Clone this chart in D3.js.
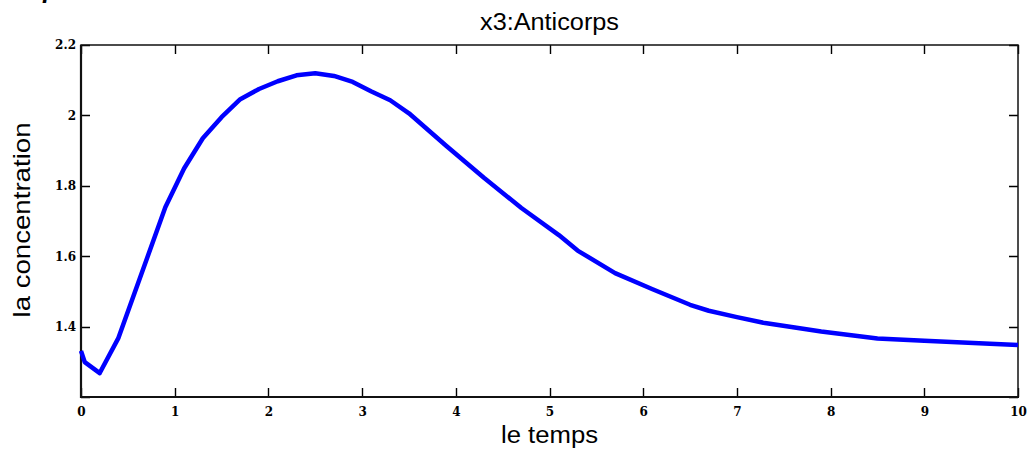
<!DOCTYPE html>
<html>
<head>
<meta charset="utf-8">
<script src="https://cdn.jsdelivr.net/npm/d3@7"></script>
<style>
  html, body { margin: 0; padding: 0; background: #fff; }
  svg { display: block; }
  .tick text { font-family: "DejaVu Serif", "Liberation Serif", serif; font-weight: bold; font-size: 12px; fill: #000; }
</style>
</head>
<body>
<svg id="chart" width="1030" height="450"></svg>
<script>
// Time samples (le temps) and antibody concentration x3
const temps = [0, 0.04, 0.2, 0.4, 0.9, 1.1, 1.3, 1.5, 1.7, 1.9, 2.1, 2.3, 2.5, 2.7, 2.9,
               3.1, 3.3, 3.5, 3.9, 4.3, 4.7, 5.1, 5.3, 5.7, 6.1, 6.5, 6.7, 7.0, 7.3, 7.9,
               8.5, 9.0, 9.7, 10];
const anticorps = [1.331, 1.299, 1.268, 1.368, 1.739, 1.849, 1.935, 1.995, 2.046, 2.075, 2.097,
                   2.114, 2.120, 2.112, 2.095, 2.068, 2.043, 2.006, 1.913, 1.823, 1.737, 1.660,
                   1.616, 1.552, 1.506, 1.462, 1.445, 1.427, 1.410, 1.386, 1.366, 1.360, 1.351, 1.348];

const xTicks = [0, 1, 2, 3, 4, 5, 6, 7, 8, 9, 10];
const yTicks = [1.2, 1.4, 1.6, 1.8, 2.0, 2.2];
const yTickLabels = ["", "1.4", "1.6", "1.8", "2", "2.2"];

const titre = "x3:Anticorps";
const xLabel = "le temps";
const yLabel = "la concentration";

const svg = d3.select("#chart");
const plot = { left: 81, top: 45, right: 1018, bottom: 397 };

const x = d3.scaleLinear().domain([0, 10]).range([plot.left, plot.right]);
const y = d3.scaleLinear().domain([1.2, 2.2]).range([plot.bottom, plot.top]);

// Tick labels from the library's axes
svg.append("g")
  .attr("transform", `translate(0,${plot.bottom})`)
  .call(d3.axisBottom(x).tickValues(xTicks).tickFormat(d3.format("d")).tickSize(0).tickPadding(10))
  .call(g => g.select(".domain").remove())
  .call(g => g.selectAll(".tick line").remove());
svg.append("g")
  .attr("transform", `translate(${plot.left},0)`)
  .call(d3.axisLeft(y).tickValues(yTicks).tickFormat((d, i) => yTickLabels[i]).tickSize(0).tickPadding(5))
  .call(g => g.select(".domain").remove())
  .call(g => g.selectAll(".tick line").remove());

// Inward tick marks on all four sides of the box, as one path
const tickLen = 9;
const tickPath = d3.path();
xTicks.forEach(d => {
  const px = Math.round(x(d)) + 0.5;
  tickPath.moveTo(px, plot.bottom); tickPath.lineTo(px, plot.bottom - tickLen);
  tickPath.moveTo(px, plot.top); tickPath.lineTo(px, plot.top + tickLen);
});
yTicks.forEach(d => {
  const py = Math.round(y(d)) + 0.5;
  tickPath.moveTo(plot.left, py); tickPath.lineTo(plot.left + tickLen, py);
  tickPath.moveTo(plot.right, py); tickPath.lineTo(plot.right - tickLen, py);
});
svg.append("path")
  .attr("d", tickPath.toString())
  .attr("fill", "none")
  .attr("stroke", "#000")
  .attr("stroke-width", 1.4);

// Frame
svg.append("rect")
  .attr("x", plot.left).attr("y", plot.top)
  .attr("width", plot.right - plot.left).attr("height", plot.bottom - plot.top)
  .attr("fill", "none").attr("stroke", "#111").attr("stroke-width", 1.5);
svg.append("line").attr("x1", plot.left).attr("x2", plot.right + 1).attr("y1", plot.bottom).attr("y2", plot.bottom)
  .attr("stroke", "#111").attr("stroke-width", 2.2);
svg.append("line").attr("x1", plot.left).attr("x2", plot.left).attr("y1", plot.top).attr("y2", plot.bottom + 1)
  .attr("stroke", "#111").attr("stroke-width", 2.2);

// Concentration curve
const line = d3.line().x((d, i) => x(temps[i])).y(d => y(d));
svg.append("path")
  .datum(anticorps)
  .attr("d", line)
  .attr("fill", "none")
  .attr("stroke", "#0000ff")
  .attr("stroke-width", 4.5)
  .attr("stroke-linejoin", "round");

// Titles
const sans = "Liberation Sans, Arial, sans-serif";
svg.append("text")
  .attr("x", (plot.left + plot.right) / 2).attr("y", 30)
  .attr("text-anchor", "middle")
  .attr("textLength", 139).attr("lengthAdjust", "spacingAndGlyphs")
  .style("font-family", sans).style("font-size", "23px")
  .text(titre);
svg.append("text")
  .attr("x", (plot.left + plot.right) / 2).attr("y", 443)
  .attr("text-anchor", "middle")
  .attr("textLength", 97).attr("lengthAdjust", "spacingAndGlyphs")
  .style("font-family", sans).style("font-size", "23px")
  .text(xLabel);
svg.append("text")
  .attr("transform", `translate(30,220) rotate(-90)`)
  .attr("text-anchor", "middle")
  .attr("textLength", 195).attr("lengthAdjust", "spacingAndGlyphs")
  .style("font-family", sans).style("font-size", "24px")
  .text(yLabel);

// Clipped heading glyph at the top-left edge
svg.append("text")
  .attr("x", 42).attr("y", -1)
  .style("font-family", "DejaVu Serif, serif").style("font-weight", "bold").style("font-style", "italic")
  .style("font-size", "20px")
  .text("p");
</script>
</body>
</html>
